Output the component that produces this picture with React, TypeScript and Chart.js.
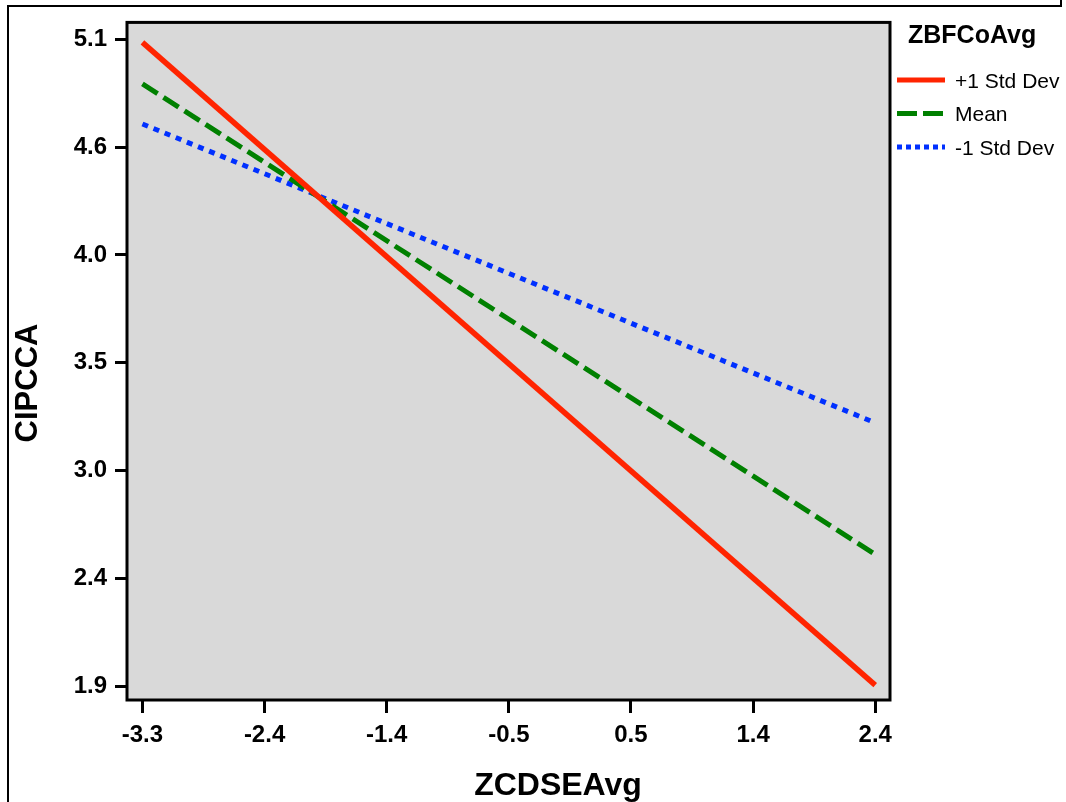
import React, { useEffect, useRef } from "react";
import { Chart, registerables } from "chart.js";

Chart.register(...registerables);

// ---- data ----
const legendTitle = "ZBFCoAvg";
const xAxisTitle = "ZCDSEAvg";
const yAxisTitle = "CIPCCA";
const seriesLabels = ["+1 Std Dev", "Mean", "-1 Std Dev"];
const xValues = [-3.33, 2.37];
const plusOneSD = [5.085, 1.895];
const meanValues = [4.879, 2.543];
const minusOneSD = [4.68, 3.197];
const xTickValues = [-3.33, -2.38, -1.43, -0.48, 0.47, 1.42, 2.37];
const xTickLabels = ["-3.3", "-2.4", "-1.4", "-0.5", "0.5", "1.4", "2.4"];
const yTickValues = [1.89, 2.425, 2.96, 3.495, 4.03, 4.565, 5.1];
const yTickLabels = ["1.9", "2.4", "3.0", "3.5", "4.0", "4.6", "5.1"];

// ---- styles ----
const colors = ["#ff2400", "#008000", "#0030ff"];
const dashes: number[][] = [[], [18, 7], [6, 6]];
const legendDashes: number[][] = [[], [20, 6], [5, 4]];
const FONT = "'Liberation Sans', Arial, sans-serif";

const decorPlugin = {
  id: "decor",
  beforeDraw(chart: any) {
    const { ctx, chartArea } = chart;
    const { left, top, right, bottom } = chartArea;
    ctx.save();
    ctx.fillStyle = "#d9d9d9";
    ctx.fillRect(left, top, right - left, bottom - top);
    ctx.restore();
  },
  afterDatasetsDraw(chart: any) {
    const { ctx, chartArea } = chart;
    const { left, top, right, bottom } = chartArea;
    ctx.save();
    ctx.strokeStyle = "#000";
    ctx.lineWidth = 3;
    ctx.strokeRect(left, top, right - left, bottom - top);
    ctx.restore();
  },
  afterDraw(chart: any) {
    const { ctx } = chart;
    ctx.save();
    ctx.fillStyle = "#000";
    // y axis title
    ctx.font = `bold 31px ${FONT}`;
    ctx.textAlign = "center";
    ctx.textBaseline = "alphabetic";
    ctx.save();
    ctx.translate(37, 383);
    ctx.rotate(-Math.PI / 2);
    ctx.fillText(yAxisTitle, 0, 0);
    ctx.restore();
    // x axis title
    ctx.font = `bold 32px ${FONT}`;
    ctx.fillText(xAxisTitle, 558, 795);
    // legend
    ctx.textAlign = "left";
    ctx.font = `bold 25px ${FONT}`;
    ctx.fillText(legendTitle, 908, 43);
    ctx.font = `21px ${FONT}`;
    chart.data.datasets.forEach((ds: any, i: number) => {
      const y = 80 + i * 33.5;
      ctx.save();
      ctx.strokeStyle = ds.borderColor;
      ctx.lineWidth = 5;
      ctx.setLineDash(legendDashes[i]);
      ctx.beginPath();
      ctx.moveTo(897, y);
      ctx.lineTo(945, y);
      ctx.stroke();
      ctx.restore();
      ctx.fillStyle = "#000";
      ctx.fillText(ds.label, 955, y + 7.5);
    });
    ctx.restore();
  },
};

export default function App() {
  const canvasRef = useRef<HTMLCanvasElement | null>(null);

  useEffect(() => {
    if (!canvasRef.current) return;
    const series = [plusOneSD, meanValues, minusOneSD];
    const chart = new Chart(canvasRef.current, {
      type: "line",
      data: {
        datasets: series.map((vals, i) => ({
          label: seriesLabels[i],
          data: xValues.map((x, j) => ({ x, y: vals[j] })),
          borderColor: colors[i],
          borderWidth: i === 0 ? 5.5 : 5,
          borderDash: dashes[i],
          pointRadius: 0,
          fill: false,
          tension: 0,
        })),
      },
      options: {
        animation: false,
        responsive: true,
        maintainAspectRatio: false,
        layout: { padding: { top: 20, right: 176, left: 0, bottom: 0 } },
        plugins: { legend: { display: false }, tooltip: { enabled: false }, title: { display: false } },
        scales: {
          x: {
            type: "linear",
            min: -3.45,
            max: 2.485,
            afterBuildTicks: (scale: any) => {
              scale.ticks = xTickValues.map((v) => ({ value: v }));
            },
            afterFit: (scale: any) => {
              scale.height = 102;
            },
            ticks: {
              autoSkip: false,
              maxRotation: 0,
              padding: 8,
              color: "#000",
              font: { family: FONT, size: 24, weight: "bold" },
              callback: (_v: any, idx: number) => xTickLabels[idx],
            },
            grid: {
              drawOnChartArea: false,
              drawTicks: true,
              tickLength: 13,
              tickWidth: 3,
              tickColor: "#000",
            },
            border: { display: false },
          },
          y: {
            type: "linear",
            min: 1.821,
            max: 5.184,
            afterBuildTicks: (scale: any) => {
              scale.ticks = yTickValues.map((v) => ({ value: v }));
            },
            afterFit: (scale: any) => {
              scale.width = 127;
            },
            ticks: {
              autoSkip: false,
              padding: 8,
              color: "#000",
              font: { family: FONT, size: 24, weight: "bold" },
              callback: (_v: any, idx: number) => yTickLabels[idx],
            },
            grid: {
              drawOnChartArea: false,
              drawTicks: true,
              tickLength: 12,
              tickWidth: 3,
              tickColor: "#000",
            },
            border: { display: false },
          },
        },
      } as any,
      plugins: [decorPlugin],
    });
    return () => chart.destroy();
  }, []);

  return (
    <div
      style={{
        position: "fixed",
        left: 0,
        top: 0,
        width: 1066,
        height: 802,
        overflow: "hidden",
        background: "#fff",
      }}
    >
      <div style={{ position: "absolute", left: 7, top: 5, width: 2, height: 900, background: "#000" }} />
      <div style={{ position: "absolute", left: 7, top: 5, width: 1055, height: 2, background: "#000" }} />
      <div style={{ position: "absolute", left: 1060, top: 0, width: 2, height: 6, background: "#000" }} />
      <div style={{ position: "absolute", left: 0, top: 0, width: 1066, height: 802 }}>
        <canvas ref={canvasRef} />
      </div>
    </div>
  );
}
